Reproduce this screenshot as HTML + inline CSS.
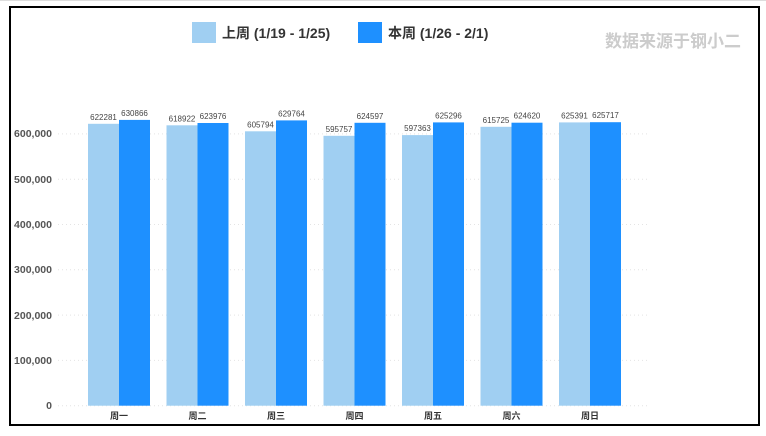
<!DOCTYPE html><html><head><meta charset="utf-8"><style>body{margin:0;background:#fff}svg{display:block}</style></head><body>
<svg width="766" height="436" xmlns="http://www.w3.org/2000/svg" font-family="Liberation Sans, Noto Sans CJK SC, sans-serif">
<rect x="0" y="0" width="766" height="436" fill="#fff"/>
<line x1="0" y1="0.5" x2="766" y2="0.5" stroke="#ddd"/>
<rect x="10" y="7" width="749" height="418" fill="#fff" stroke="#000" stroke-width="2"/>
<text x="605" y="47" font-size="17" font-weight="bold" fill="#ccc">数据来源于钢小二</text>
<rect x="192" y="22" width="24" height="21" fill="#a0cff2"/>
<text x="222" y="38" font-size="14" font-weight="bold" fill="#333">上周 (1/19 - 1/25)</text>
<rect x="358" y="22" width="24" height="21" fill="#1e90ff"/>
<text x="388" y="38" font-size="14" font-weight="bold" fill="#333">本周 (1/26 - 2/1)</text>
<g font-size="10.5" font-weight="bold" fill="#555" text-anchor="end">
<text x="52" y="409">0</text><text x="52" y="364">100,000</text><text x="52" y="319">200,000</text><text x="52" y="273">300,000</text><text x="52" y="228">400,000</text><text x="52" y="183">500,000</text><text x="52" y="137">600,000</text>
</g>
<g stroke="#e4e4e4" stroke-dasharray="1,3">
<line x1="58" y1="360.4" x2="650" y2="360.4"/><line x1="58" y1="315.1" x2="650" y2="315.1"/><line x1="58" y1="269.8" x2="650" y2="269.8"/><line x1="58" y1="224.5" x2="650" y2="224.5"/><line x1="58" y1="179.2" x2="650" y2="179.2"/><line x1="58" y1="133.9" x2="650" y2="133.9"/><line x1="58" y1="405.7" x2="650" y2="405.7"/>
</g>
<g fill="#a0cff2">
<rect x="88" y="123.8" width="31" height="281.9"/>
<rect x="166.5" y="125.3" width="31" height="280.4"/>
<rect x="245" y="131.3" width="31" height="274.4"/>
<rect x="323.5" y="135.8" width="31" height="269.9"/>
<rect x="402" y="135.1" width="31" height="270.6"/>
<rect x="480.5" y="126.8" width="31" height="278.9"/>
<rect x="559" y="122.4" width="31" height="283.3"/>
</g>
<g fill="#1e90ff">
<rect x="119" y="119.9" width="31" height="285.8"/>
<rect x="197.5" y="123.0" width="31" height="282.7"/>
<rect x="276" y="120.4" width="31" height="285.3"/>
<rect x="354.5" y="122.8" width="31" height="282.9"/>
<rect x="433" y="122.4" width="31" height="283.3"/>
<rect x="511.5" y="122.7" width="31" height="283.0"/>
<rect x="590" y="122.2" width="31" height="283.5"/>
</g>
<g font-size="8" fill="#444" text-anchor="middle">
<text x="103.5" y="119.8">622281</text><text x="134.5" y="115.9">630866</text>
<text x="182" y="121.3">618922</text><text x="213" y="119">623976</text>
<text x="260.5" y="127.3">605794</text><text x="291.5" y="116.4">629764</text>
<text x="339" y="131.8">595757</text><text x="370" y="118.8">624597</text>
<text x="417.5" y="131.1">597363</text><text x="448.5" y="118.4">625296</text>
<text x="496" y="122.8">615725</text><text x="527" y="118.7">624620</text>
<text x="574.5" y="118.4">625391</text><text x="605.5" y="118.2">625717</text>
</g>
<g font-size="9" font-weight="bold" fill="#333" text-anchor="middle">
<text x="119" y="419">周一</text><text x="197.5" y="419">周二</text><text x="276" y="419">周三</text><text x="354.5" y="419">周四</text><text x="433" y="419">周五</text><text x="511.5" y="419">周六</text><text x="590" y="419">周日</text>
</g>
</svg></body></html>
